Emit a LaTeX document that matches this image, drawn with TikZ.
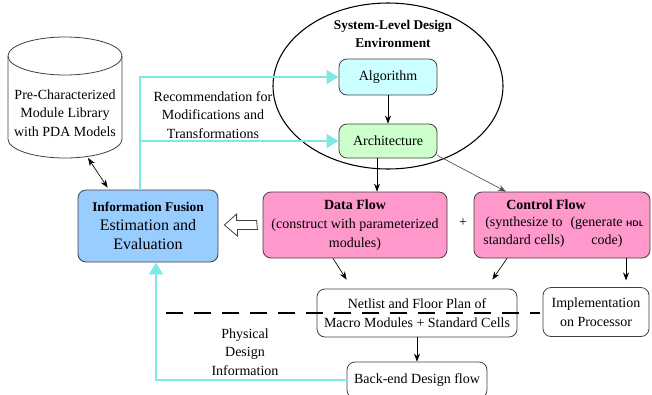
\documentclass[tikz,border=0pt]{standalone}
\usepackage{fontspec}
\setmainfont{Liberation Serif}
\usetikzlibrary{calc,positioning,shapes.geometric,arrows.meta}
\definecolor{fusionblue}{RGB}{153,204,255}
\definecolor{flowpink}{RGB}{255,153,204}
\definecolor{algcyan}{RGB}{204,255,255}
\definecolor{archgreen}{RGB}{204,255,204}
\definecolor{feedcyan}{RGB}{125,232,232}
\tikzset{
	box/.style={draw=black!75, line width=0.6pt, rounded corners=6pt, align=center, inner sep=1pt},
	arr/.style={-{Stealth[length=6pt,width=4.5pt]}, line width=0.5pt},
	fb/.style={draw=feedcyan, line width=2.2pt, -{Triangle[length=9pt,width=10pt]}},
	txt/.style={align=center}
}

\begin{document}
\begin{tikzpicture}[x=0.75pt, y=-0.75pt, font=\fontsize{10.5}{14}\selectfont]
	\useasboundingbox (0,0) rectangle (652,394);

	% module library
	\draw[draw=black!75, line width=0.6pt] (8,56) -- (8,139) arc[start angle=180, end angle=0, x radius=57, y radius=19] -- (122,56);
	\draw[draw=black!75, line width=0.6pt] (65,56) ellipse [x radius=57, y radius=19];
	\node[txt] (lib) at (65,113) {Pre-Characterized\\Module Library\\with PDA Models};
	\coordinate (libfoot) at (88,158);

	% design environment
	\draw[line width=0.8pt] (388,86) ellipse [x radius=115, y radius=83];
	\node[txt, font=\fontsize{10}{14}\selectfont\bfseries] (env) at (393,34) {System-Level Design\\Environment};
	\node[box, fill=algcyan, minimum width=73.5pt, minimum height=27pt] (alg) at (388,77) {Algorithm};
	\node[box, fill=archgreen, minimum width=73.5pt, minimum height=25.5pt] (arch) at (388,141) {Architecture};

	\node[box, fill=fusionblue, minimum width=105pt, minimum height=54pt, font=\fontsize{12}{14}\selectfont] (info) at (148,226) {{\fontsize{10}{13}\selectfont\bfseries Information Fusion}\\Estimation and\\Evaluation};
	\node[box, fill=flowpink, minimum width=138pt, minimum height=49.5pt] (data) at (355,225) {\textbf{Data Flow}\\(construct with parameterized\\modules)};
	\node[box, fill=flowpink, minimum width=132pt, minimum height=49.5pt] (ctrl) at (562,225) {};
	\node[txt] (ctrltitle) at ($(ctrl.center)+(-16,-20)$) {\textbf{Control Flow}};
	\node[txt] (synth) at ($(ctrl.center)+(-38,7)$) {(synthesize to\\standard cells)};
	\node[txt] (hdl) at ($(ctrl.center)+(45,7)$) {(generate {\sffamily\bfseries\fontsize{6}{7}\selectfont HDL}\\code)};
	\node (plus) at (463,223) {+};

	\node[box, fill=white, minimum width=150pt, minimum height=36pt] (net) at (417,313) {Netlist and Floor Plan of\\Macro Modules + Standard Cells};
	\node[box, fill=white, minimum width=79.5pt, minimum height=36.75pt] (impl) at (596,312) {Implementation\\on Processor};
	\node[box, fill=white, minimum width=105pt, minimum height=27pt] (back) at (417,380) {Back-end Design flow};

	\node[txt] (recom) at (213,115) {Recommendation for\\Modifications and\\Transformations};
	\node[txt] (phys) at (245,352) {Physical\\Design\\Information};

	% connectors
	\draw[arr, {Stealth[length=6pt,width=4.5pt]}-{Stealth[length=6pt,width=4.5pt]}] (libfoot) -- ($(info.north west)+(30,-2)$);
	\draw[arr] (alg) -- (arch);
	\draw[arr] ($(arch.south)+(-11,0)$) -- ($(data.north)+(22,0)$);
	\draw[arr, draw=black!70] ($(arch.south east)+(0,-3)$) -- ($(ctrl.north)+(-56,0)$);
	\draw[arr] ($(data.south)+(-22,0)$) -- ($(net.north west)+(30,-9)$);
	\draw[arr] ($(ctrl.south)+(-55,0)$) -- ($(net.north east)+(-25,-9)$);
	\draw[arr] ($(ctrl.south)+(64,0)$) -- ++(0,22);
	\draw[arr] (net) -- (back);
	\draw[draw=black!75, line width=0.6pt, fill=white] ($(data.west)+(-6,-4.5)$) -- ++(-20,0) -- ++(0,-6.5) -- ($(info.east)+(6,-1)$) -- ++(13,11) -- ++(0,-6.5) -- ++(20,0) -- cycle;

	% feedback paths
	\coordinate (split) at (140,141);
	\coordinate (fbturn) at (156,380);
	\draw[fb] (info.north -| split) |- (alg.west);
	\draw[fb] (split) -- (arch.west);
	\draw[fb] (back.west) -- (fbturn) -- (fbturn |- info.south);

	\draw[line width=2.2pt, dash pattern=on 13 off 8] (166,313) -- (540,313);
\end{tikzpicture}
\end{document}
